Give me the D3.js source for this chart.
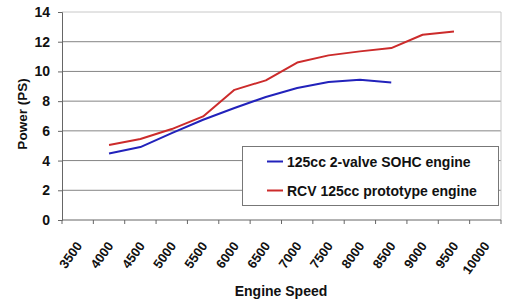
<!DOCTYPE html>
<html>
<head>
<meta charset="utf-8">
<script src="https://cdn.jsdelivr.net/npm/d3@7"></script>
<style>
  body { margin: 0; background: #fff; }
  text { font-family: "Liberation Sans", Arial, sans-serif; font-weight: bold; fill: #111; }
</style>
</head>
<body>
<svg id="chart"></svg>
<script>
// engine speed categories (rpm)
var speeds = ["3500","4000","4500","5000","5500","6000","6500","7000","7500","8000","8500","9000","9500","10000"];
// power (PS), null where no reading
var sohcPower = [null, 4.48, 4.91, 5.85, 6.75, 7.54, 8.28, 8.88, 9.29, 9.44, 9.26, null, null, null];
var rcvPower  = [null, 5.05, 5.45, 6.12, 6.97, 8.76, 9.4, 10.6, 11.08, 11.35, 11.57, 12.47, 12.69, null];
var seriesNames = ["125cc 2-valve SOHC engine", "RCV 125cc prototype engine"];
var seriesColors = ["#2222bb", "#cc2b2b"];
var yTicks = [0, 2, 4, 6, 8, 10, 12, 14];

var W = 530, H = 308,
    margin = {left: 62, right: 29, top: 12, bottom: 88};

var svg = d3.select("#chart").attr("width", W).attr("height", H);

var x = d3.scaleBand().domain(speeds).range([margin.left, W - margin.right]),
    y = d3.scaleLinear().domain([0, 14]).range([H - margin.bottom, margin.top]);

// gridlines
svg.append("g")
    .selectAll("line")
    .data(yTicks.slice(1))
    .enter()
    .append("line")
    .attr("x1", margin.left).attr("x2", W - margin.right)
    .attr("y1", d => y(d)).attr("y2", d => y(d))
    .attr("stroke", d => d == 14 ? "#c8c8c8" : "#858585")
    .attr("stroke-width", 1);

// right border of plot area
svg.append("line")
    .attr("x1", W - margin.right).attr("x2", W - margin.right)
    .attr("y1", y(14)).attr("y2", y(0))
    .attr("stroke", "#c8c8c8");

// y axis
var yAxis = svg.append("g")
    .attr("transform", `translate(${margin.left},0)`)
    .call(d3.axisLeft(y).tickValues(yTicks).tickSize(4).tickPadding(8));
yAxis.select(".domain").attr("stroke", "#666");
yAxis.selectAll(".tick line").attr("stroke", "#666");
yAxis.selectAll("text").style("font-size", "14px").attr("fill", "#111");

// x axis: ticks on category boundaries
var xAxisG = svg.append("g").attr("transform", `translate(0,${y(0)})`);
xAxisG.append("line")
    .attr("x1", margin.left).attr("x2", W - margin.right)
    .attr("stroke", "#666");
var bounds = speeds.map(d => x(d)).concat([W - margin.right]);
xAxisG.selectAll("line.tk")
    .data(bounds)
    .enter()
    .append("line")
    .attr("class", "tk")
    .attr("x1", d => d).attr("x2", d => d)
    .attr("y1", 0).attr("y2", 4)
    .attr("stroke", "#666");
xAxisG.selectAll("text")
    .data(speeds)
    .enter()
    .append("text")
    .attr("transform", d => `translate(${x(d) + x.bandwidth() / 2 + 5},26) rotate(-54)`)
    .attr("text-anchor", "end")
    .style("font-size", "13px")
    .text(d => d);

// lines
var line = d3.line()
    .defined(d => d.v != null)
    .x(d => x(d.k) + x.bandwidth() / 2)
    .y(d => y(d.v));

[sohcPower, rcvPower].forEach((vals, i) => {
    svg.append("path")
        .datum(speeds.map((k, j) => ({k: k, v: vals[j]})))
        .attr("d", line)
        .attr("fill", "none")
        .attr("stroke", seriesColors[i])
        .attr("stroke-width", 2)
        .attr("stroke-linejoin", "round");
});

// legend
var lg = svg.append("g");
lg.append("rect")
    .attr("x", 242.5).attr("y", 146.5)
    .attr("width", 256).attr("height", 59)
    .attr("fill", "#fff")
    .attr("stroke", "#777");
seriesNames.forEach((name, i) => {
    var ly = 161.5 + i * 29;
    lg.append("line")
        .attr("x1", 267).attr("x2", 283)
        .attr("y1", ly).attr("y2", ly)
        .attr("stroke", seriesColors[i])
        .attr("stroke-width", 2);
    lg.append("text")
        .attr("x", 287).attr("y", ly)
        .attr("dy", "0.36em")
        .style("font-size", "14px")
        .text(name);
});

// axis titles
svg.append("text")
    .attr("transform", "translate(27,114) rotate(-90)")
    .attr("text-anchor", "middle")
    .style("font-size", "13.5px")
    .text("Power (PS)");

svg.append("text")
    .attr("x", 281).attr("y", 296)
    .attr("text-anchor", "middle")
    .style("font-size", "14px")
    .text("Engine Speed");
</script>
</body>
</html>
